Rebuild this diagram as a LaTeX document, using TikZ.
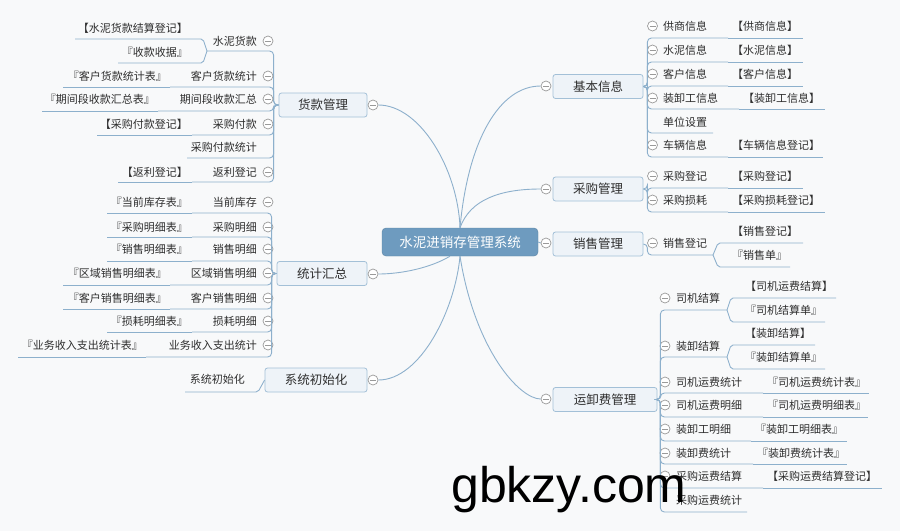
\documentclass[tikz,border=0pt]{standalone}
\usepackage{fontspec}
\setmainfont{Noto Sans CJK SC}
\newfontfamily\wmfont{Liberation Sans}
\definecolor{bgc}{HTML}{F8F9FA}
\definecolor{linec}{HTML}{8DB0CC}
\definecolor{nodebd}{HTML}{A3C0D7}
\definecolor{nodefill}{HTML}{EEF3F8}
\definecolor{rootfill}{HTML}{6E9BBF}
\definecolor{txt}{HTML}{2E2E2E}
\definecolor{circc}{HTML}{9A9A9A}
\tikzset{
 conn/.style={draw=linec, line width=0.9pt, rounded corners=4pt},
 lbl/.style={inner sep=0pt, text=txt, font=\fontsize{11}{13}\selectfont},
 topic/.style={draw=nodebd, fill=nodefill, rounded corners=2.5pt, line width=0.8pt, minimum height=24pt, text=txt, font=\fontsize{12.5}{14}\selectfont, inner sep=0pt},
 rootnode/.style={fill=rootfill, draw=rootfill!85!black, rounded corners=4pt, minimum width=156pt, minimum height=28pt, text=white, font=\fontsize{13.5}{15}\selectfont, inner sep=0pt},
 coll/.style={circle, draw=circc, fill=white, line width=0.7pt, minimum size=10pt, inner sep=0pt, path picture={\draw[circc, line width=0.7pt] ([xshift=-3pt]path picture bounding box.center) -- ([xshift=3pt]path picture bounding box.center);}},
}
% left child: name, text, ty, uy, junction x
\newcommand{\LC}[5]{\node[lbl,anchor=east] (#1) at (257,#3) {#2};\coordinate (#1u) at (#5,#4);}
% left sub: name, text, east x, ty, uy, left x
\newcommand{\LS}[6]{\node[lbl,anchor=east] (#1) at (#3,#4) {#2};\coordinate (#1u) at (#6,#5);}
% right child: name, text, ty, uy, junction x, text x
\newcommand{\RC}[6]{\node[lbl,anchor=west] (#1) at (#6,#3) {#2};\coordinate (#1u) at (#5,#4);}
% right sub: name, text, west x, ty, uy, right x
\newcommand{\RS}[6]{\node[lbl,anchor=west] (#1) at (#3,#4) {#2};\coordinate (#1u) at (#6,#5);}
% collapse mark: name, x, y
\newcommand{\KK}[3]{\node[coll] (#1k) at (#2,#3) {};}
\begin{document}
\begin{tikzpicture}[x=1pt,y=-1pt]
\fill[bgc] (0,0) rectangle (900,531);
\useasboundingbox (0,0) rectangle (900,531);

% ---------- root and topics ----------
\node[rootnode] (root) at (460,242) {水泥进销存管理系统};
\node[topic, minimum width=88pt] (dk) at (323,105) {货款管理};
\node[topic, minimum width=90pt] (tj) at (322,273.5) {统计汇总};
\node[topic, minimum width=102pt] (xt) at (316,380) {系统初始化};
\node[topic, minimum width=90pt] (jb) at (598,86.5) {基本信息};
\node[topic, minimum width=90pt] (cg) at (598,189) {采购管理};
\node[topic, minimum width=90pt] (xs) at (598,244) {销售管理};
\node[topic, minimum width=104pt] (ys) at (605,399.5) {运卸费管理};
\KK{dk}{373}{105}
\KK{tj}{373}{274}
\KK{xt}{373}{380}
\KK{jb}{546}{86}
\KK{cg}{546}{189}
\KK{xs}{546}{243}
\KK{ys}{546}{399}

\draw[conn] (root.north) .. controls +(-2,-58) and +(42,0) .. (dkk.east);
\draw[conn] (root.north) .. controls +(8,-88) and +(-41,0) .. (jbk.west);
\draw[conn] (root.north) .. controls +(10,-28) and +(-41,0) .. (cgk.west);
\draw[conn] (root.east) -- (xsk.west);
\draw[conn] ([xshift=-10pt]root.south) .. controls +(-20,12) and +(22,0) .. (tjk.east);
\draw[conn] (root.south) .. controls +(-5,54) and +(42,0) .. (xtk.east);
\draw[conn] (root.south) .. controls +(15,94) and +(-21,0) .. (ysk.west);

% ---------- 货款管理 ----------
\LC{dk1}{水泥货款}{41}{51}{207}\KK{dk1}{268}{41}
\LS{dk1a}{【水泥货款结算登记】}{188}{28}{39}{75}
\LS{dk1b}{『收款收据』}{188}{52}{63}{118}
\draw[conn] (dk.west) -- ++(-5,0) |- (dk1u);
\draw[conn, rounded corners=2pt] (dk1u) -- ++(-4,-12) -- (dk1au);
\draw[conn, rounded corners=2pt] (dk1u) -- ++(-4,12) -- (dk1bu);

\LC{dk2}{客户货款统计}{76}{87}{170}\KK{dk2}{268}{76}
\LS{dk2a}{『客户货款统计表』}{167}{76}{87}{63}
\draw[conn] (dk.west) -- ++(-5,0) |- (dk2u);
\draw[conn] (dk2u) -- (dk2au);

\LC{dk3}{期间段收款汇总}{99}{111}{158}\KK{dk3}{268}{99}
\LS{dk3a}{『期间段收款汇总表』}{155}{99}{111}{42}
\draw[conn] (dk.west) -- ++(-5,0) |- (dk3u);
\draw[conn] (dk3u) -- (dk3au);

\LC{dk4}{采购付款}{124}{135}{192}\KK{dk4}{268}{124}
\LS{dk4a}{【采购付款登记】}{188}{124}{135}{97}
\draw[conn] (dk.west) -- ++(-5,0) |- (dk4u);
\draw[conn] (dk4u) -- (dk4au);

\LC{dk5}{采购付款统计}{147}{158}{187}
\draw[conn] (dk.west) -- ++(-5,0) |- (dk5u);

\LC{dk6}{返利登记}{172}{182}{192}\KK{dk6}{268}{172}
\LS{dk6a}{【返利登记】}{188}{172}{182}{118}
\draw[conn] (dk.west) -- ++(-5,0) |- (dk6u);
\draw[conn] (dk6u) -- (dk6au);

% ---------- 统计汇总 ----------
\LC{tj1}{当前库存}{202}{213}{192}\KK{tj1}{268}{202}
\LS{tj1a}{『当前库存表』}{188}{202}{213}{107}
\LC{tj2}{采购明细}{227}{237}{192}\KK{tj2}{268}{227}
\LS{tj2a}{『采购明细表』}{188}{227}{237}{107}
\LC{tj3}{销售明细}{249}{261}{192}\KK{tj3}{268}{249}
\LS{tj3a}{『销售明细表』}{188}{249}{261}{107}
\LC{tj4}{区域销售明细}{273}{285}{170}\KK{tj4}{268}{273}
\LS{tj4a}{『区域销售明细表』}{167}{273}{285}{63}
\LC{tj5}{客户销售明细}{298}{309}{170}\KK{tj5}{268}{298}
\LS{tj5a}{『客户销售明细表』}{167}{298}{309}{63}
\LC{tj6}{损耗明细}{321}{332}{192}\KK{tj6}{268}{321}
\LS{tj6a}{『损耗明细表』}{188}{321}{332}{107}
\LC{tj7}{业务收入支出统计}{345}{357}{146}\KK{tj7}{268}{345}
\LS{tj7a}{『业务收入支出统计表』}{143}{345}{357}{18}
\foreach \i in {1,...,7}{
  \draw[conn] (tj.west) -- ++(-5,0) |- (tj\i u);
  \draw[conn] (tj\i u) -- (tj\i au);
}

% ---------- 系统初始化 ----------
\node[lbl,anchor=east] (xt1) at (245,379) {系统初始化};
\coordinate (xt1u) at (258,392);
\coordinate (xt1l) at (185,392);
\draw[conn, rounded corners=2pt] (xt.west) -- (xt1u) -- (xt1l);

% ---------- 基本信息 ----------
\RC{jb1}{供商信息}{26}{38}{728}{663}\KK{jb1}{652.5}{26}
\RS{jb1a}{【供商信息】}{732}{26}{38}{803}
\RC{jb2}{水泥信息}{50}{62}{728}{663}\KK{jb2}{652.5}{50}
\RS{jb2a}{【水泥信息】}{732}{50}{62}{803}
\RC{jb3}{客户信息}{74}{86}{728}{663}\KK{jb3}{652.5}{74}
\RS{jb3a}{【客户信息】}{732}{74}{86}{803}
\RC{jb4}{装卸工信息}{98}{109}{739}{663}\KK{jb4}{652.5}{98}
\RS{jb4a}{【装卸工信息】}{743}{98}{109}{825}
\RC{jb5}{单位设置}{122}{133}{713}{663}
\RC{jb6}{车辆信息}{145}{157}{728}{663}\KK{jb6}{652.5}{145}
\RS{jb6a}{【车辆信息登记】}{732}{145}{157}{823}
\foreach \i in {1,...,6}{
  \draw[conn] (jb.east) -- ++(4,0) |- (jb\i u);
}
\foreach \i in {1,2,3,4,6}{
  \draw[conn] (jb\i u) -- (jb\i au);
}

% ---------- 采购管理 ----------
\RC{cg1}{采购登记}{176}{188}{728}{663}\KK{cg1}{652.5}{176}
\RS{cg1a}{【采购登记】}{732}{176}{188}{803}
\RC{cg2}{采购损耗}{200}{212}{728}{663}\KK{cg2}{652.5}{200}
\RS{cg2a}{【采购损耗登记】}{732}{200}{212}{825}
\foreach \i in {1,2}{
  \draw[conn] (cg.east) -- ++(4,0) |- (cg\i u);
  \draw[conn] (cg\i u) -- (cg\i au);
}

% ---------- 销售管理 ----------
\RC{xs1}{销售登记}{243}{255}{713}{663}\KK{xs1}{652.5}{243}
\RS{xs1a}{【销售登记】}{732}{231}{243}{803}
\RS{xs1b}{『销售单』}{732}{255}{267}{790}
\draw[conn] (xs.east) -- ++(4,0) |- (xs1u);
\draw[conn, rounded corners=2pt] (xs1u) -- ++(5,-12) -- (xs1au);
\draw[conn, rounded corners=2pt] (xs1u) -- ++(5,12) -- (xs1bu);

% ---------- 运卸费管理 ----------
\RC{ys1}{司机结算}{298}{310}{727}{676}\KK{ys1}{665}{298}
\RS{ys1a}{【司机运费结算】}{745}{286}{298}{836}
\RS{ys1b}{『司机结算单』}{745}{310}{322}{825}
\RC{ys2}{装卸结算}{346}{357}{727}{676}\KK{ys2}{665}{346}
\RS{ys2a}{【装卸结算】}{745}{333}{345}{815}
\RS{ys2b}{『装卸结算单』}{745}{357}{369}{825}
\RC{ys3}{司机运费统计}{382}{393}{763}{676}\KK{ys3}{665}{382}
\RS{ys3a}{『司机运费统计表』}{767}{382}{393}{869}
\RC{ys4}{司机运费明细}{405}{417}{763}{676}\KK{ys4}{665}{405}
\RS{ys4a}{『司机运费明细表』}{767}{405}{417}{868}
\RC{ys5}{装卸工明细}{429}{441}{751}{676}\KK{ys5}{665}{429}
\RS{ys5a}{『装卸工明细表』}{755}{429}{441}{847}
\RC{ys6}{装卸费统计}{453}{464}{753}{676}\KK{ys6}{665}{453}
\RS{ys6a}{『装卸费统计表』}{757}{453}{464}{847}
\RC{ys7}{采购运费结算}{476}{488}{763}{676}\KK{ys7}{665}{476}
\RS{ys7a}{【采购运费结算登记】}{767}{476}{488}{882}
\RC{ys8}{采购运费统计}{500}{512}{747}{676}
\foreach \i in {1,...,8}{
  \draw[conn] (ys.east) -- ++(3,0) |- (ys\i u);
}
\foreach \i in {3,...,7}{
  \draw[conn] (ys\i u) -- (ys\i au);
}
\foreach \i in {1,2}{
  \draw[conn, rounded corners=2pt] (ys\i u) -- ++(4,-12) -- (ys\i au);
  \draw[conn, rounded corners=2pt] (ys\i u) -- ++(4,12) -- (ys\i bu);
}

% ---------- watermark ----------
\node[anchor=base west, inner sep=0pt, font=\wmfont\fontsize{50}{50}\selectfont, text=black] (wm) at (451,502) {gbkzy.com};
\end{tikzpicture}
\end{document}
